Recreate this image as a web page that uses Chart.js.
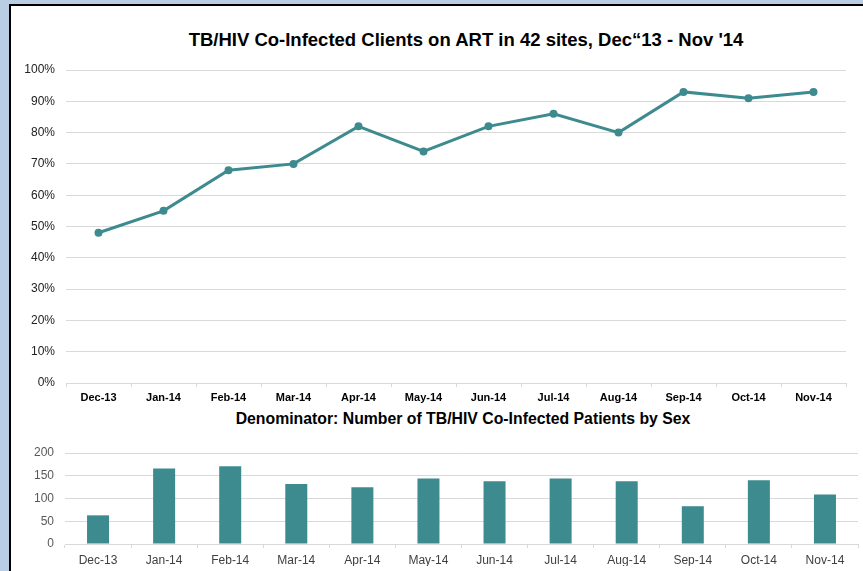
<!DOCTYPE html>
<html>
<head>
<meta charset="utf-8">
<script src="https://cdn.jsdelivr.net/npm/chart.js@4"></script>
<style>
  html, body { margin: 0; padding: 0; }
  body { width: 863px; height: 571px; overflow: hidden; background: #b9cde5; position: relative; font-family: "Liberation Sans", Arial, sans-serif; }
  #panel { position: absolute; left: 9px; top: 4px; width: 900px; height: 600px; background: #fff; border-left: 2px solid #000; border-top: 2px solid #000; }
  canvas { position: absolute; left: 0; }
  .title { position: absolute; font-weight: bold; color: #000; white-space: nowrap; transform: translate(-50%, -50%); }
</style>
</head>
<body>
<div id="panel"></div>
<div class="title" style="left:466px; top:40px; font-size:18.5px;">TB/HIV Co-Infected Clients on ART in 42 sites, Dec“13 - Nov '14</div>
<div class="title" style="left:463px; top:419px; font-size:15.8px;">Denominator: Number of TB/HIV Co-Infected Patients by Sex</div>
<canvas id="top" width="863" height="405" style="top:0"></canvas>
<canvas id="bottom" width="863" height="166" style="top:405px"></canvas>
<script>
// DATA
let months = ["Dec-13","Jan-14","Feb-14","Mar-14","Apr-14","May-14","Jun-14","Jul-14","Aug-14","Sep-14","Oct-14","Nov-14"];
let onArt = [0.48, 0.55, 0.68, 0.70, 0.82, 0.74, 0.82, 0.86, 0.80, 0.93, 0.91, 0.93];
let patients = [63, 166, 171, 132, 125, 144, 138, 144, 138, 83, 140, 109];

let teal = "#3d8b8f";
let gridColor = "#d9d9d9";
Chart.defaults.font.family = "'Liberation Sans', Arial, sans-serif";
Chart.defaults.animation = false;

// TOP LINE CHART
new Chart(document.getElementById("top"), {
  type: "line",
  data: {
    labels: months,
    datasets: [{
      data: onArt,
      borderColor: teal,
      backgroundColor: teal,
      borderWidth: 3,
      pointRadius: 2.5,
      pointHoverRadius: 2.5,
      tension: 0
    }]
  },
  options: {
    responsive: false,
    layout: { padding: { top: 70, right: 17, bottom: 0, left: 0 } },
    plugins: { legend: { display: false }, tooltip: { enabled: false } },
    scales: {
      x: {
        offset: true,
        grid: { offset: true, drawOnChartArea: false, drawTicks: true, tickLength: 4, color: gridColor },
        border: { color: gridColor },
        ticks: { color: "#000", font: { size: 11, weight: "bold" }, padding: 4, maxRotation: 0 },
        afterFit: s => { s.height = 22; }
      },
      y: {
        min: 0, max: 1,
        grid: { color: gridColor, drawTicks: false },
        border: { display: false },
        ticks: { stepSize: 0.1, color: "#222", font: { size: 12 }, padding: 11,
          callback: v => Math.round(v * 100) + "%" },
        afterFit: s => { s.width = 66; }
      }
    }
  }
});

// BOTTOM BAR CHART
new Chart(document.getElementById("bottom"), {
  type: "bar",
  data: {
    labels: months,
    datasets: [{
      data: patients,
      backgroundColor: teal,
      categoryPercentage: 1,
      barPercentage: 0.333
    }]
  },
  options: {
    responsive: false,
    layout: { padding: { top: 48, right: 5, bottom: 5, left: 0 } },
    plugins: { legend: { display: false }, tooltip: { enabled: false } },
    scales: {
      x: {
        grid: { offset: true, drawOnChartArea: false, drawTicks: true, tickLength: 4, color: gridColor },
        border: { color: gridColor },
        ticks: { color: "#404040", font: { size: 12 }, padding: 5, maxRotation: 0 },
        afterFit: s => { s.height = 22; }
      },
      y: {
        min: 0, max: 200,
        grid: { color: gridColor, drawTicks: false },
        border: { display: false },
        ticks: { stepSize: 50, color: "#595959", font: { size: 12 }, padding: 11 },
        afterFit: s => { s.width = 65; }
      }
    }
  }
});
</script>
</body>
</html>
